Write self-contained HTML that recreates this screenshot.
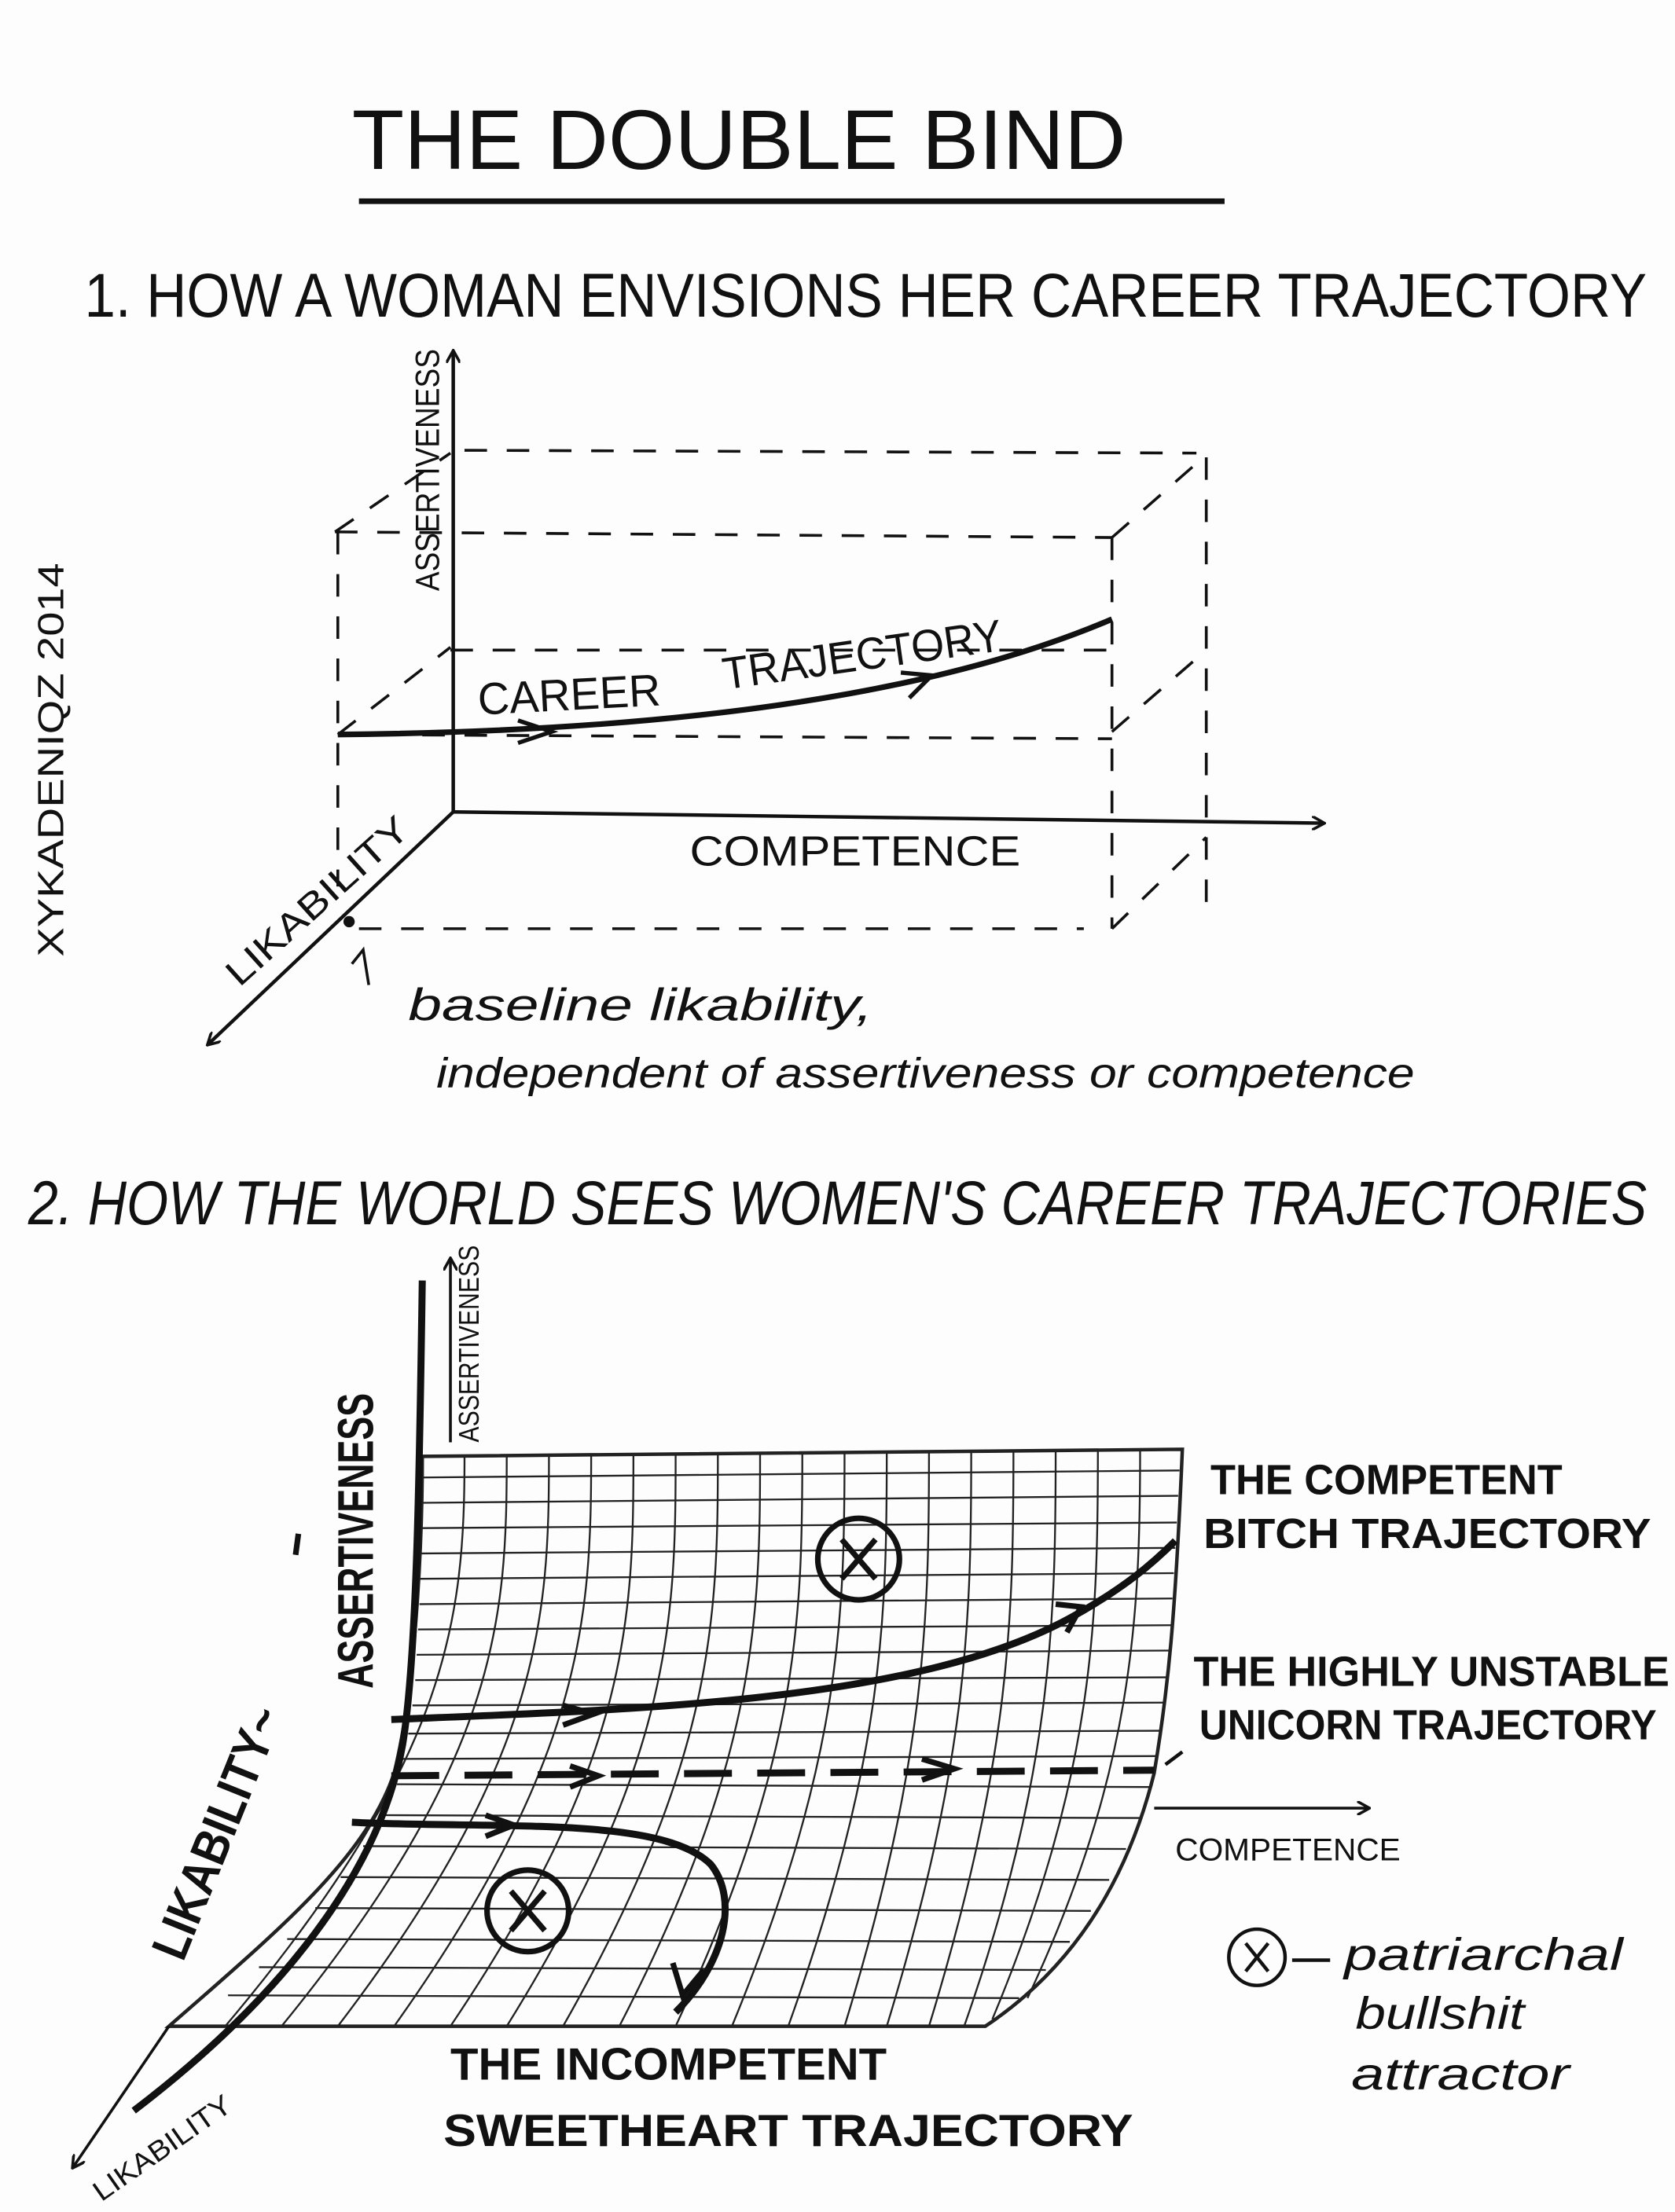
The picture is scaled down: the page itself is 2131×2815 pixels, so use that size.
<!DOCTYPE html>
<html><head><meta charset="utf-8">
<style>
html,body{margin:0;padding:0;background:#fff;}
svg{display:block;}
text{font-family:"Liberation Sans",sans-serif;fill:#111;}
</style></head>
<body>
<svg width="2131" height="2815" viewBox="0 0 1190 1572" xmlns="http://www.w3.org/2000/svg">
<rect width="1190" height="1572" fill="#fdfdfd"/>
<defs>
<marker id="ah" markerWidth="10" markerHeight="10" refX="8" refY="5" orient="auto" markerUnits="userSpaceOnUse">
<path d="M0,0 L9,5 L0,10" fill="none" stroke="#111" stroke-width="2"/></marker>
<marker id="ah2" markerWidth="22" markerHeight="22" refX="11" refY="11" orient="auto" markerUnits="userSpaceOnUse">
<path d="M0,2 L14,11 L0,20" fill="none" stroke="#111" stroke-width="4"/></marker>
</defs>

<!-- Title -->
<text x="250" y="120" font-size="60" textLength="550" lengthAdjust="spacingAndGlyphs">THE DOUBLE BIND</text>
<line x1="255" y1="143" x2="870" y2="143" stroke="#111" stroke-width="4"/>
<text x="60" y="225" font-size="44" textLength="1110" lengthAdjust="spacingAndGlyphs">1. HOW A WOMAN ENVISIONS HER CAREER TRAJECTORY</text>

<!-- side signature -->
<text transform="translate(45,680) rotate(-90)" font-size="26" textLength="280" lengthAdjust="spacingAndGlyphs">XYKADENIQZ 2014</text>

<!-- Section 1 box -->
<g stroke="#111" stroke-width="2" fill="none" stroke-dasharray="16 14">
<line x1="330" y1="320" x2="850" y2="322"/>
<line x1="238" y1="378" x2="790" y2="382"/>
<line x1="240" y1="378" x2="240" y2="630"/>
<line x1="790" y1="382" x2="790" y2="660"/>
<line x1="857" y1="325" x2="857" y2="650"/>
<line x1="238" y1="378" x2="320" y2="322"/>
<line x1="790" y1="382" x2="855" y2="325"/>
<line x1="255" y1="660" x2="770" y2="660"/>
<line x1="790" y1="660" x2="857" y2="595"/>
<line x1="790" y1="520" x2="857" y2="462"/>
<line x1="240" y1="522" x2="320" y2="460"/>
<line x1="320" y1="462" x2="790" y2="462"/>
<line x1="240" y1="522" x2="790" y2="525"/>
</g>
<!-- axes -->
<g stroke="#111" stroke-width="2.5" fill="none">
<line x1="322" y1="577" x2="322" y2="250" marker-end="url(#ah)"/>
<line x1="322" y1="577" x2="940" y2="585" marker-end="url(#ah)"/>
<line x1="322" y1="577" x2="148" y2="742" marker-end="url(#ah)"/>
<path d="M240,522 C450,520 650,500 790,440" stroke-width="4"/>
<path d="M368,512 L392,520 L368,528" stroke-width="3"/>
<path d="M640,478 L662,480 L646,496" stroke-width="3"/>
</g>
<circle cx="248" cy="655" r="4" fill="#111"/>
<text x="340" y="508" font-size="32" transform="rotate(-3 340 508)" textLength="130" lengthAdjust="spacingAndGlyphs">CAREER</text>
<text x="515" y="490" font-size="32" transform="rotate(-8 515 490)" textLength="200" lengthAdjust="spacingAndGlyphs">TRAJECTORY</text>
<text x="490" y="615" font-size="30" textLength="235" lengthAdjust="spacingAndGlyphs">COMPETENCE</text>
<text transform="translate(312,420) rotate(-90)" font-size="24" textLength="172" lengthAdjust="spacingAndGlyphs">ASSERTIVENESS</text>
<text transform="translate(170,702) rotate(-42)" font-size="26" textLength="165" lengthAdjust="spacingAndGlyphs">LIKABILITY</text>
<path d="M262,700 L258,675 L250,685" stroke="#111" stroke-width="2" fill="none"/>
<text x="290" y="725" font-size="32" font-style="italic" textLength="330" lengthAdjust="spacingAndGlyphs">baseline likability,</text>
<text x="310" y="773" font-size="30" font-style="italic" textLength="695" lengthAdjust="spacingAndGlyphs">independent of assertiveness or competence</text>

<!-- Section 2 -->
<text x="20" y="870" font-size="44" font-style="italic" textLength="1150" lengthAdjust="spacingAndGlyphs">2. HOW THE WORLD SEES WOMEN'S CAREER TRAJECTORIES</text>

<!-- surface grid -->
<g stroke="#222" stroke-width="1.3" fill="none">
<path d="M300,1035 L840,1030 C835,1150 830,1200 820,1260 C800,1340 760,1400 700,1440 L120,1440 C200,1370 260,1320 280,1260 C295,1200 300,1100 300,1035 Z" stroke-width="2.5"/>
<!-- horizontal lines -->
<path d="M300,1050 L838,1045"/><path d="M300,1068 L837,1063"/><path d="M299,1086 L836,1082"/>
<path d="M299,1104 L835,1100"/><path d="M298,1122 L834,1118"/><path d="M298,1140 L833,1136"/>
<path d="M297,1158 L832,1155"/><path d="M296,1176 L831,1173"/><path d="M295,1194 L829,1192"/>
<path d="M293,1212 L828,1210"/><path d="M290,1232 L825,1230"/><path d="M286,1250 L822,1248"/>
<path d="M282,1268 L818,1270"/><path d="M272,1290 L810,1292"/><path d="M258,1312 L800,1314"/>
<path d="M242,1334 L788,1336"/><path d="M224,1356 L775,1358"/><path d="M204,1378 L760,1380"/>
<path d="M184,1398 L743,1400"/><path d="M162,1418 L724,1420"/>
</g>
<g stroke="#222" stroke-width="1.3" fill="none">
<path d="M330,1035 C330,1150 320,1250 160,1440"/>
<path d="M360,1035 C360,1150 355,1250 200,1440"/>
<path d="M390,1035 C390,1150 385,1250 240,1440"/>
<path d="M420,1034 C420,1150 415,1250 280,1440"/>
<path d="M450,1034 C450,1150 448,1250 320,1440"/>
<path d="M480,1034 C480,1150 478,1250 360,1440"/>
<path d="M510,1033 C510,1150 508,1250 400,1440"/>
<path d="M540,1033 C540,1150 538,1250 440,1440"/>
<path d="M570,1033 C570,1150 568,1250 480,1440"/>
<path d="M600,1032 C600,1150 598,1250 520,1440"/>
<path d="M630,1032 C630,1150 628,1250 560,1440"/>
<path d="M660,1032 C660,1150 658,1250 600,1440"/>
<path d="M690,1031 C690,1150 688,1250 630,1440"/>
<path d="M720,1031 C720,1150 718,1250 660,1440"/>
<path d="M750,1031 C750,1150 748,1260 685,1440"/>
<path d="M780,1030 C780,1150 778,1260 705,1435"/>
<path d="M810,1030 C810,1150 805,1260 730,1420"/>
</g>

<!-- thick axes -->
<g stroke="#111" fill="none">
<path d="M300,910 C298,1050 296,1180 286,1240 C270,1330 200,1420 95,1500" stroke-width="5"/>
<line x1="320" y1="1025" x2="320" y2="895" stroke-width="2" marker-end="url(#ah)"/>
<line x1="820" y1="1285" x2="972" y2="1285" stroke-width="2" marker-end="url(#ah)"/>
<line x1="120" y1="1440" x2="52" y2="1540" stroke-width="2" marker-end="url(#ah)"/>
<line x1="212" y1="1090" x2="210" y2="1105" stroke-width="4"/>
</g>
<text transform="translate(340,1025) rotate(-90)" font-size="20" textLength="140" lengthAdjust="spacingAndGlyphs">ASSERTIVENESS</text>
<text transform="translate(265,1200) rotate(-90)" font-size="36" font-weight="bold" textLength="210" lengthAdjust="spacingAndGlyphs">ASSERTIVENESS</text>
<text transform="translate(130,1395) rotate(-68)" font-size="36" font-weight="bold" textLength="190" lengthAdjust="spacingAndGlyphs">LIKABILITY~</text>
<text transform="translate(72,1565) rotate(-35)" font-size="20" textLength="115" lengthAdjust="spacingAndGlyphs">LIKABILITY</text>
<text x="835" y="1322" font-size="22" textLength="160" lengthAdjust="spacingAndGlyphs">COMPETENCE</text>

<!-- trajectories -->
<g stroke="#111" fill="none" stroke-width="5">
<path d="M278,1222 C450,1215 650,1210 760,1150 C800,1128 820,1110 835,1095"/>
<path d="M278,1262 L820,1258" stroke-dasharray="34 18"/>
<path d="M250,1295 C350,1300 470,1290 505,1325 C525,1350 515,1395 480,1430"/>
<path d="M400,1212 L422,1218 L400,1226" stroke-width="4"/>
<path d="M750,1140 L768,1142 L758,1160" stroke-width="4"/>
<path d="M405,1255 L425,1262 L405,1270" stroke-width="4"/>
<path d="M655,1250 L678,1257 L655,1265" stroke-width="4"/>
<path d="M345,1290 L365,1297 L345,1305" stroke-width="4"/>
<path d="M478,1395 L485,1418 L500,1400" stroke-width="4"/>
<line x1="840" y1="1245" x2="828" y2="1254" stroke-width="2.5"/>
</g>
<!-- attractors -->
<g stroke="#111" fill="none" stroke-width="4">
<circle cx="610" cy="1108" r="29"/>
<path d="M598,1094 L622,1122 M622,1094 L598,1122"/>
<circle cx="375" cy="1358" r="29"/>
<path d="M363,1344 L387,1372 M387,1344 L363,1372"/>
<circle cx="893" cy="1391" r="20" stroke-width="2.5"/>
<path d="M885,1381 L901,1401 M901,1381 L885,1401" stroke-width="2.5"/>
<line x1="918" y1="1393" x2="945" y2="1393" stroke-width="2.5"/>
</g>

<!-- labels section 2 -->
<text x="860" y="1062" font-size="30" font-weight="bold" textLength="250" lengthAdjust="spacingAndGlyphs">THE COMPETENT</text>
<text x="855" y="1100" font-size="30" font-weight="bold" textLength="318" lengthAdjust="spacingAndGlyphs">BITCH TRAJECTORY</text>
<text x="848" y="1198" font-size="30" font-weight="bold" textLength="338" lengthAdjust="spacingAndGlyphs">THE HIGHLY UNSTABLE</text>
<text x="852" y="1236" font-size="30" font-weight="bold" textLength="325" lengthAdjust="spacingAndGlyphs">UNICORN TRAJECTORY</text>
<text x="320" y="1478" font-size="32" font-weight="bold" textLength="310" lengthAdjust="spacingAndGlyphs">THE INCOMPETENT</text>
<text x="315" y="1525" font-size="32" font-weight="bold" textLength="490" lengthAdjust="spacingAndGlyphs">SWEETHEART TRAJECTORY</text>
<text x="955" y="1400" font-size="32" font-style="italic" textLength="198" lengthAdjust="spacingAndGlyphs">patriarchal</text>
<text x="963" y="1442" font-size="32" font-style="italic" textLength="120" lengthAdjust="spacingAndGlyphs">bullshit</text>
<text x="960" y="1485" font-size="32" font-style="italic" textLength="155" lengthAdjust="spacingAndGlyphs">attractor</text>
</svg>
</body></html>
